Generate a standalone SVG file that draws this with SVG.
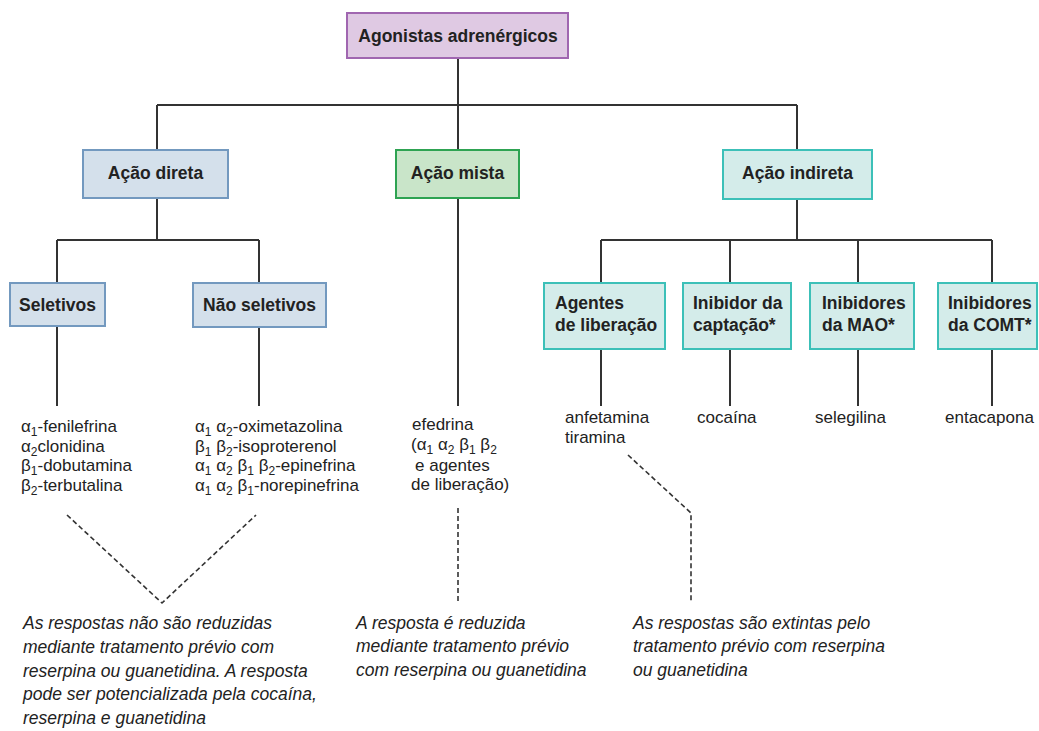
<svg xmlns="http://www.w3.org/2000/svg" width="1039" height="731" viewBox="0 0 1039 731">
<style>
.box{stroke-width:2}
.purple{fill:#dfc9e3;stroke:#a066b0}
.blue{fill:#d4e0eb;stroke:#7399bf}
.green{fill:#c9e5c9;stroke:#2ea352}
.teal{fill:#d4ecea;stroke:#3cc0b8}
.lbl{font-family:"Liberation Sans",Arial,sans-serif;font-weight:bold;font-size:17.5px;fill:#222}
.c{text-anchor:middle}
.lst{font-family:"Liberation Sans",Arial,sans-serif;font-size:17px;fill:#222}
.it{font-family:"Liberation Sans",Arial,sans-serif;font-style:italic;font-size:17.5px;fill:#222}
.sub{font-size:12px}
.ln{fill:none;stroke:#333;stroke-width:2}
.dash{fill:none;stroke:#333;stroke-width:1.6;stroke-dasharray:5 3}
</style>
<rect width="1039" height="731" fill="#ffffff"/>
<g id="connectors">
<path class="ln" d="M458 58V105M157 105H797M157 105V150M458 105V150M797 105V150"/>
<path class="ln" d="M157 198V240M57 240H259M57 240V283M259 240V283"/>
<path class="ln" d="M797 199V240M601 240H992M601 240V283M730 240V283M858 240V283M992 240V283"/>
<path class="ln" d="M57 326V406M259 327V406M458 198V406M601 349V406M730 349V406M858 349V406M992 349V406"/>
<path class="dash" d="M67 515L162 603L256 515"/>
<path class="dash" d="M458 508V603"/>
<path class="dash" d="M628 455L691 513V603"/>
</g>
<g id="agonistas">
<rect class="box purple" x="347" y="13" width="221" height="45"/>
<text class="lbl c" x="458" y="42">Agonistas adrenérgicos</text>
</g>
<g id="acao-direta">
<rect class="box blue" x="83" y="150" width="145" height="48"/>
<text class="lbl c" x="155.5" y="179">Ação direta</text>
</g>
<g id="acao-mista">
<rect class="box green" x="396" y="150" width="123" height="48"/>
<text class="lbl c" x="457.5" y="179">Ação mista</text>
</g>
<g id="acao-indireta">
<rect class="box teal" x="723" y="150" width="149" height="49"/>
<text class="lbl c" x="797.5" y="179">Ação indireta</text>
</g>
<g id="seletivos">
<rect class="box blue" x="10" y="283" width="95" height="43"/>
<text class="lbl c" x="57.5" y="311">Seletivos</text>
</g>
<g id="nao-seletivos">
<rect class="box blue" x="193" y="283" width="133" height="44"/>
<text class="lbl c" x="259.5" y="311">Não seletivos</text>
</g>
<g id="agentes-liberacao">
<rect class="box teal" x="544" y="283" width="121" height="66"/>
<text class="lbl" x="555" y="309">Agentes</text>
<text class="lbl" x="555" y="331">de liberação</text>
</g>
<g id="inibidor-captacao">
<rect class="box teal" x="683" y="283" width="108" height="66"/>
<text class="lbl" x="693" y="309">Inibidor da</text>
<text class="lbl" x="693" y="331">captação*</text>
</g>
<g id="inibidores-mao">
<rect class="box teal" x="810" y="283" width="104" height="66"/>
<text class="lbl" x="822" y="309">Inibidores</text>
<text class="lbl" x="822" y="331">da MAO*</text>
</g>
<g id="inibidores-comt">
<rect class="box teal" x="938" y="283" width="99" height="66"/>
<text class="lbl" x="948" y="309">Inibidores</text>
<text class="lbl" x="948" y="331">da COMT*</text>
</g>
<g id="lista-seletivos">
<text class="lst" x="21" y="432">α<tspan class="sub" dy="4">1</tspan><tspan dy="-4">-fenilefrina</tspan></text>
<text class="lst" x="21" y="452">α<tspan class="sub" dy="4">2</tspan><tspan dy="-4">clonidina</tspan></text>
<text class="lst" x="21" y="471">β<tspan class="sub" dy="4">1</tspan><tspan dy="-4">-dobutamina</tspan></text>
<text class="lst" x="21" y="491">β<tspan class="sub" dy="4">2</tspan><tspan dy="-4">-terbutalina</tspan></text>
</g>
<g id="lista-nao-seletivos">
<text class="lst" x="195" y="432">α<tspan class="sub" dy="4">1</tspan><tspan dy="-4"> α</tspan><tspan class="sub" dy="4">2</tspan><tspan dy="-4">-oximetazolina</tspan></text>
<text class="lst" x="195" y="452">β<tspan class="sub" dy="4">1</tspan><tspan dy="-4"> β</tspan><tspan class="sub" dy="4">2</tspan><tspan dy="-4">-isoproterenol</tspan></text>
<text class="lst" x="195" y="471">α<tspan class="sub" dy="4">1</tspan><tspan dy="-4"> α</tspan><tspan class="sub" dy="4">2</tspan><tspan dy="-4"> β</tspan><tspan class="sub" dy="4">1</tspan><tspan dy="-4"> β</tspan><tspan class="sub" dy="4">2</tspan><tspan dy="-4">-epinefrina</tspan></text>
<text class="lst" x="195" y="491">α<tspan class="sub" dy="4">1</tspan><tspan dy="-4"> α</tspan><tspan class="sub" dy="4">2</tspan><tspan dy="-4"> β</tspan><tspan class="sub" dy="4">1</tspan><tspan dy="-4">-norepinefrina</tspan></text>
</g>
<g id="lista-mista">
<text class="lst" x="412" y="430">efedrina</text>
<text class="lst" x="411" y="450">(α<tspan class="sub" dy="4">1</tspan><tspan dy="-4"> α</tspan><tspan class="sub" dy="4">2</tspan><tspan dy="-4"> β</tspan><tspan class="sub" dy="4">1</tspan><tspan dy="-4"> β</tspan><tspan class="sub" dy="4">2</tspan></text>
<text class="lst" x="415" y="471">e  agentes</text>
<text class="lst" x="411" y="490">de liberação)</text>
</g>
<g id="lista-indireta">
<text class="lst" x="565" y="423">anfetamina</text>
<text class="lst" x="565" y="443">tiramina</text>
<text class="lst" x="697" y="423">cocaína</text>
<text class="lst" x="815" y="423">selegilina</text>
<text class="lst" x="945" y="423">entacapona</text>
</g>
<g id="nota-direta">
<text class="it" x="23" y="629">As respostas não são reduzidas</text>
<text class="it" x="23" y="653">mediante tratamento prévio com</text>
<text class="it" x="23" y="677">reserpina ou guanetidina. A resposta</text>
<text class="it" x="23" y="700">pode ser potencializada pela cocaína,</text>
<text class="it" x="23" y="724">reserpina e guanetidina</text>
</g>
<g id="nota-mista">
<text class="it" x="356" y="629">A resposta é reduzida</text>
<text class="it" x="356" y="652">mediante tratamento prévio</text>
<text class="it" x="356" y="676">com reserpina ou guanetidina</text>
</g>
<g id="nota-indireta">
<text class="it" x="633" y="629">As respostas são extintas pelo</text>
<text class="it" x="633" y="652">tratamento prévio com reserpina</text>
<text class="it" x="633" y="676">ou guanetidina</text>
</g>
</svg>
